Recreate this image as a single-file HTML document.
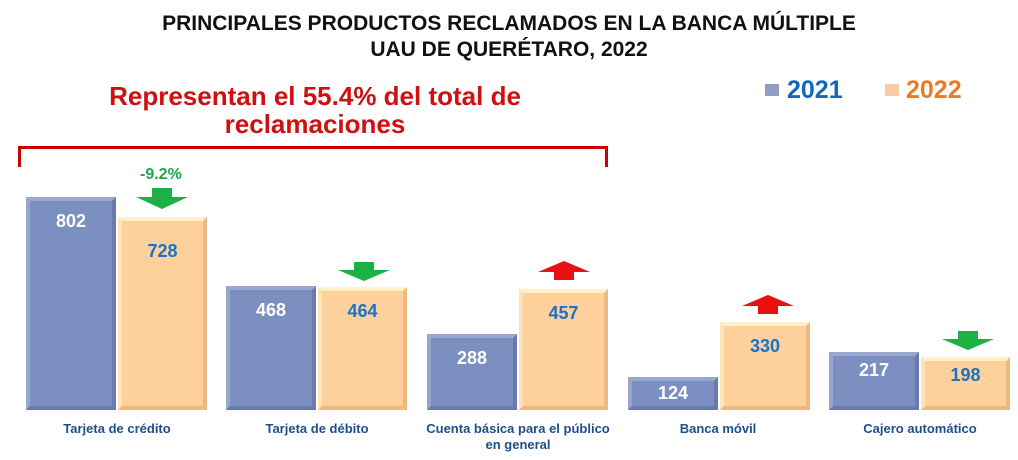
<!DOCTYPE html>
<html><head><meta charset="utf-8"><style>
body{margin:0;width:1018px;height:460px;background:#fff;font-family:"Liberation Sans",sans-serif;overflow:hidden;position:relative}
.t{position:absolute;left:0;width:1018px;text-align:center;font-weight:bold;font-size:21px;color:#111}
.bar{position:absolute;box-sizing:border-box;border:4px solid;bottom:50px}
.b{background:#7b8fc0;border-color:#9aa8cf #6a7bab #6a7bab #98a6cc}
.o{background:#fdd09c;border-color:#fff0c8 #eeb980 #eeb980 #ffe3b8}
.v{position:absolute;width:100%;text-align:center;top:10px;font-weight:bold;font-size:18px}
.b .v{color:#fff}.o .v{color:#1a73c8}
.lab{position:absolute;font-size:13px;font-weight:bold;color:#1f4e8f;text-align:center;width:220px;top:421px;line-height:16px}
</style></head><body>
<div class="t" style="top:12px">PRINCIPALES PRODUCTOS RECLAMADOS EN LA BANCA MÚLTIPLE</div>
<div class="t" style="top:38px">UAU DE QUERÉTARO, 2022</div>
<div style="position:absolute;left:90px;top:82px;width:450px;text-align:center;color:#d01010;font-weight:bold;font-size:26px;line-height:28px">Representan el 55.4% del total de reclamaciones</div>
<div style="position:absolute;left:18px;top:146px;width:584px;height:18px;border:3px solid #c00;border-bottom:none"></div>
<div style="position:absolute;left:765px;top:84px;width:14px;height:12px;background:#8e9ec4"></div>
<div style="position:absolute;left:787px;top:76px;font-weight:bold;font-size:25px;color:#1167c0">2021</div>
<div style="position:absolute;left:885px;top:84px;width:14px;height:12px;background:#f6cda4"></div>
<div style="position:absolute;left:906px;top:76px;font-weight:bold;font-size:25px;color:#ec7a25">2022</div>
<div style="position:absolute;left:140px;top:166px;font-weight:bold;font-size:16px;color:#1aa84a">-9.2%</div>
<div class="bar b" style="left:26px;width:90px;height:213px"><div class="v">802</div></div>
<div class="bar o" style="left:118px;width:89px;height:193px"><div class="v" style="top:20px">728</div></div>
<div class="bar b" style="left:226px;width:90px;height:124px"><div class="v">468</div></div>
<div class="bar o" style="left:318px;width:89px;height:123px"><div class="v">464</div></div>
<div class="bar b" style="left:427px;width:90px;height:76px"><div class="v">288</div></div>
<div class="bar o" style="left:519px;width:89px;height:121px"><div class="v">457</div></div>
<div class="bar b" style="left:628px;width:90px;height:33px"><div class="v" style="top:2px">124</div></div>
<div class="bar o" style="left:720px;width:90px;height:88px"><div class="v">330</div></div>
<div class="bar b" style="left:829px;width:90px;height:58px"><div class="v" style="top:4px">217</div></div>
<div class="bar o" style="left:921px;width:89px;height:53px"><div class="v" style="top:4px">198</div></div>
<svg width="1018" height="460" style="position:absolute;left:0;top:0">
<g fill="#1db045">
<polygon points="152,188 172,188 172,197 188,197 162,209 136,197 152,197"/>
<polygon points="354,262 374,262 374,270 390,270 364,281 338,270 354,270"/>
<polygon points="958,331 978,331 978,339 994,339 968,350 942,339 958,339"/>
</g>
<g fill="#e81010">
<polygon points="554,280 574,280 574,272 590,272 564,261 538,272 554,272"/>
<polygon points="758,314 778,314 778,306 794,306 768,295 742,306 758,306"/>
</g>
</svg>
<div class="lab" style="left:7px">Tarjeta de crédito</div>
<div class="lab" style="left:207px">Tarjeta de débito</div>
<div class="lab" style="left:418px;width:200px">Cuenta básica para el público<br>en general</div>
<div class="lab" style="left:608px">Banca móvil</div>
<div class="lab" style="left:810px">Cajero automático</div>
</body></html>
